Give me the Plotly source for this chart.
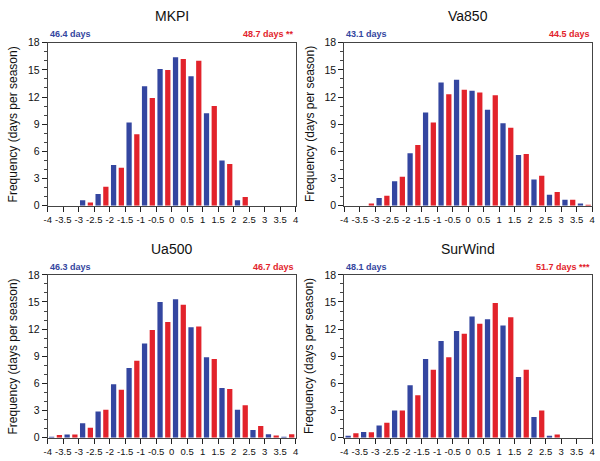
import plotly.graph_objects as go

# ---------------- data ----------------
bin_left = [-4, -3.5, -3, -2.5, -2, -1.5, -1, -0.5, 0, 0.5, 1, 1.5, 2, 2.5, 3, 3.5]
tick_vals = [-4, -3.5, -3, -2.5, -2, -1.5, -1, -0.5, 0, 0.5, 1, 1.5, 2, 2.5, 3, 3.5, 4]
tick_text = ["-4", "-3.5", "-3", "-2.5", "-2", "-1.5", "-1", "-0.5", "0", "0.5",
             "1", "1.5", "2", "2.5", "3", "3.5", "4"]

titles = ["MKPI", "Va850", "Ua500", "SurWind"]
left_notes = ["46.4 days", "43.1 days", "46.3 days", "48.1 days"]
right_notes = ["48.7 days **", "44.5 days", "46.7 days", "51.7 days ***"]

mkpi_blue = [0, 0, 0.6, 1.3, 4.5, 9.2, 13.2, 15.1, 16.4, 14.3, 10.2, 5.0, 0.6, 0, 0, 0]
mkpi_red = [0, 0, 0.35, 2.1, 4.2, 7.9, 11.9, 15.0, 16.2, 16.0, 11.0, 4.6, 0.95, 0, 0, 0]

va850_blue = [0, 0, 0.85, 2.7, 5.8, 10.3, 13.6, 13.9, 12.7, 10.6, 9.1, 5.6, 2.9, 1.2, 0.65, 0.25]
va850_red = [0, 0.25, 1.1, 3.2, 6.7, 9.2, 12.3, 12.8, 12.5, 12.2, 8.6, 5.7, 3.3, 1.5, 0.65, 0.1]

ua500_blue = [0.1, 0.35, 1.6, 2.9, 5.9, 7.7, 10.4, 15.0, 15.3, 12.2, 8.9, 5.5, 3.1, 0.85, 0.4, 0.05]
ua500_red = [0.3, 0.35, 1.1, 3.1, 5.3, 8.5, 11.9, 12.8, 14.7, 12.3, 8.7, 5.4, 3.6, 1.3, 0.25, 0.4]

surwind_blue = [0.15, 0.65, 1.35, 3.0, 5.8, 8.7, 10.7, 11.8, 13.4, 13.1, 12.4, 6.7, 2.3, 0.15, 0, 0]
surwind_red = [0.5, 0.6, 1.65, 3.0, 4.7, 7.5, 8.9, 11.5, 12.6, 14.9, 13.3, 7.5, 3.0, 0.35, 0, 0]

blues = [mkpi_blue, va850_blue, ua500_blue, surwind_blue]
reds = [mkpi_red, va850_red, ua500_red, surwind_red]

# ---------------- style ----------------
BLUE = "#3446a0"
RED = "#e2232b"
W, H = 600, 461
FONT = "Liberation Sans, Arial, Helvetica, sans-serif"

# panel pixel boxes: (x_left, x_right, y_top, y_bottom)
boxes = [(44.3, 295.0, 37.7, 205.0),
         (344.3, 595.0, 37.7, 205.0),
         (44.3, 295.0, 276.0, 443.3),
         (344.3, 595.0, 276.0, 443.3)]

fig = go.Figure()
annotations = []
for i in range(4):
    xa = "x" if i == 0 else f"x{i+1}"
    ya = "y" if i == 0 else f"y{i+1}"
    xb = [b + 0.125 for b in bin_left]
    xr = [b + 0.375 for b in bin_left]
    fig.add_trace(go.Bar(x=xb, y=blues[i], width=0.17, marker=dict(color=BLUE, line=dict(width=0)),
                         xaxis=xa, yaxis=ya, showlegend=False))
    fig.add_trace(go.Bar(x=xr, y=reds[i], width=0.17, marker=dict(color=RED, line=dict(width=0)),
                         xaxis=xa, yaxis=ya, showlegend=False))
    x0, x1, yt, yb = boxes[i]
    xd = [x0 / W, x1 / W]
    yd = [1 - yb / H, 1 - yt / H]
    xkey = "xaxis" if i == 0 else f"xaxis{i+1}"
    ykey = "yaxis" if i == 0 else f"yaxis{i+1}"
    fig.layout[xkey] = dict(domain=xd, anchor=ya, range=[-4, 4], tickmode="array",
                            tickvals=tick_vals, ticktext=tick_text, tickangle=0,
                            ticks="outside", ticklen=5, tickwidth=1, tickcolor="#222",
                            showline=True, mirror=True, linecolor="#444", linewidth=1,
                            showgrid=False, zeroline=False,
                            tickfont=dict(family=FONT, size=9.5, color="#111"))
    fig.layout[ykey] = dict(domain=yd, anchor=xa, range=[0, 18], tickmode="linear",
                            tick0=0, dtick=3, ticks="outside", ticklen=5, tickwidth=1,
                            tickcolor="#222", showline=True, mirror=True, linecolor="#444",
                            linewidth=1, showgrid=False, zeroline=False,
                            minor=dict(dtick=1, ticks="outside", ticklen=3, tickcolor="#444"),
                            tickfont=dict(family=FONT, size=10.5, color="#111"))
    cx = (x0 + x1) / 2
    annotations.append(dict(text=titles[i], x=cx / W, y=1 - (yt - 27) / H, xref="paper", yref="paper",
                            xanchor="center", yanchor="middle", showarrow=False,
                            font=dict(family=FONT, size=14, color="#111")))
    annotations.append(dict(text=f"<b>{left_notes[i]}</b>", x=x0 / W, y=1 - (yt - 8.5) / H,
                            xref="paper", yref="paper", xanchor="left", yanchor="middle",
                            showarrow=False, font=dict(family=FONT, size=9, color=BLUE)))
    annotations.append(dict(text=f"<b>{right_notes[i]}</b>", x=x1 / W, y=1 - (yt - 8.5) / H,
                            xref="paper", yref="paper", xanchor="right", yanchor="middle",
                            showarrow=False, font=dict(family=FONT, size=9, color=RED)))
    annotations.append(dict(text="Frequency (days per season)", x=(x0 - 35) / W,
                            y=1 - ((yt + yb) / 2) / H, xref="paper", yref="paper",
                            xanchor="center", yanchor="middle", textangle=-90, showarrow=False,
                            font=dict(family=FONT, size=12, color="#111")))

fig.update_layout(width=W, height=H, margin=dict(l=0, r=0, t=0, b=0),
                  paper_bgcolor="white", plot_bgcolor="white", barmode="overlay",
                  annotations=annotations)

fig.write_html("out.html")
